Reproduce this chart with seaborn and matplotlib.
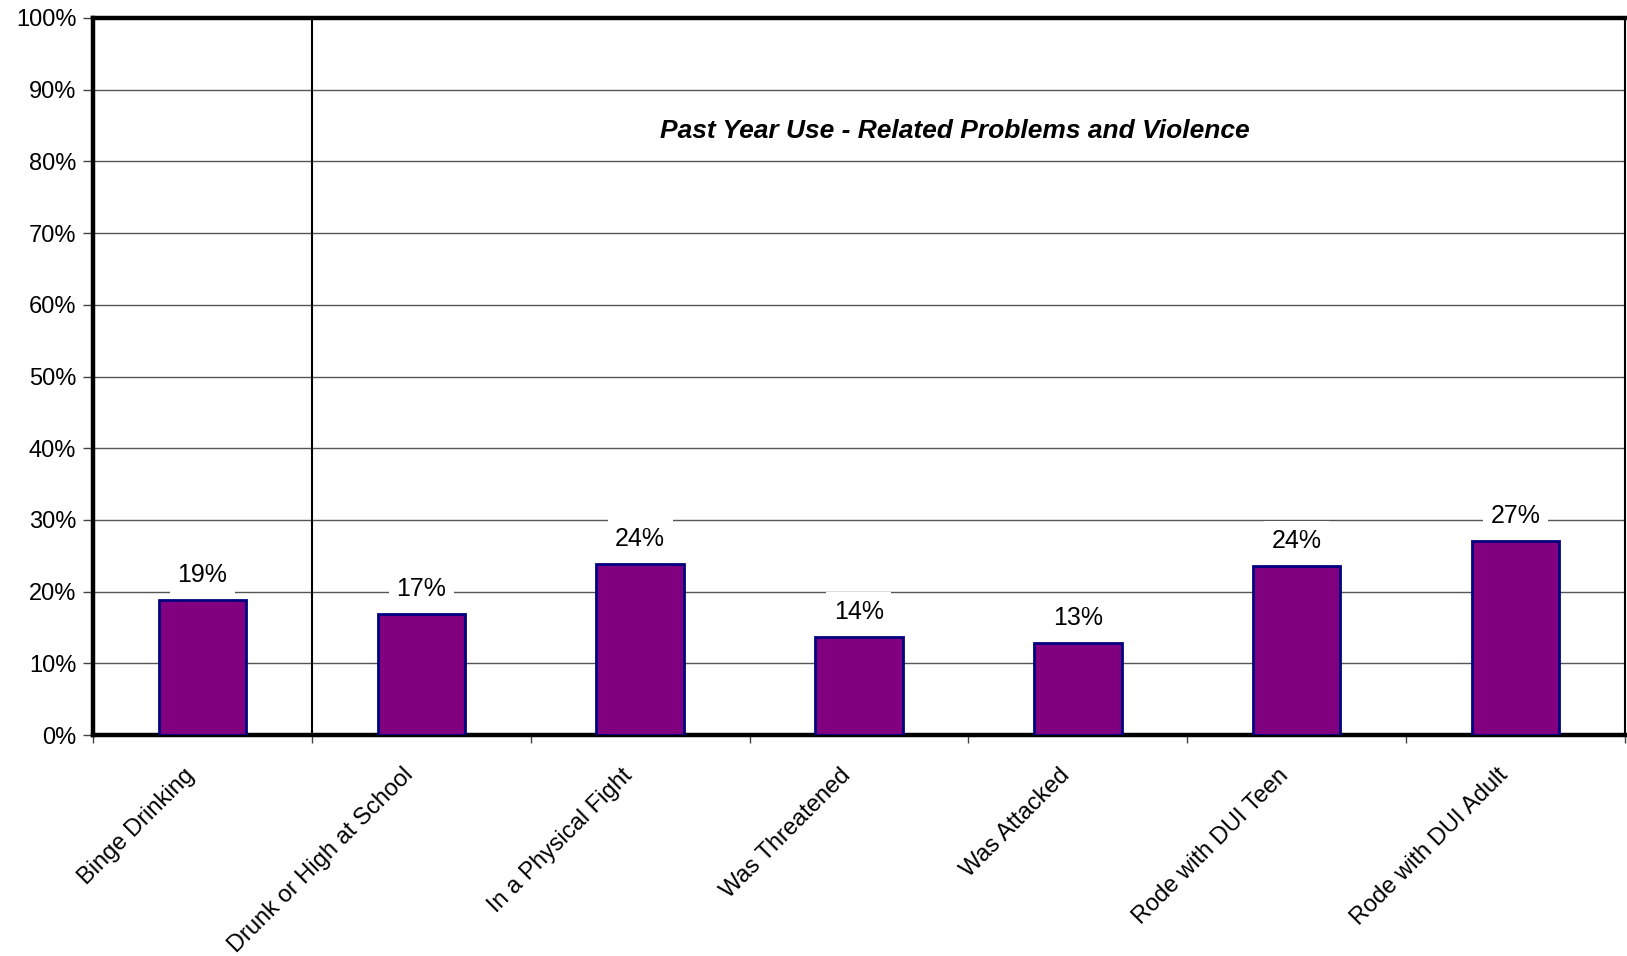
import matplotlib
matplotlib.use("Agg")
import matplotlib.pyplot as plt
import seaborn as sns
import pandas as pd

categories = ["Binge Drinking", "Drunk or High at School", "In a Physical Fight",
              "Was Threatened", "Was Attacked", "Rode with DUI Teen", "Rode with DUI Adult"]
values = [18.8, 16.9, 23.9, 13.7, 12.8, 23.6, 27.0]
yticks = [0, 10, 20, 30, 40, 50, 60, 70, 80, 90, 100]
title_text = "Past Year Use - Related Problems and Violence"

sns.set_theme(style="white")
plt.rcParams['font.family'] = ['Liberation Sans', 'DejaVu Sans']

W, H = 1627, 956
fig = plt.figure(figsize=(W / 100, H / 100), dpi=100)
ax = fig.add_axes([93 / W, 1 - 735 / H, (1625 - 93) / W, (735 - 18) / H])

df = pd.DataFrame({"cat": categories, "val": values})
sns.barplot(data=df, x="cat", y="val", color="#800080", edgecolor="#000080",
            linewidth=2, width=0.4, saturation=1, ax=ax, zorder=3)

ax.set_xlim(-0.5, len(categories) - 0.5)
ax.set_ylim(0, 100)
ax.set_yticks(yticks)
ax.set_yticklabels([f"{t}%" for t in yticks], fontsize=17, color="black")
ax.yaxis.grid(True, color="#555555", linewidth=1)
ax.set_axisbelow(True)

label_shift = 0.087
ax.set_xticks([i - label_shift for i in range(len(categories))])
ax.set_xticklabels(categories, rotation=45, ha="right", va="top",
                   rotation_mode="anchor", fontsize=17, color="black")
ax.set_xticks([i - 0.5 for i in range(len(categories) + 1)], minor=True)
ax.tick_params(axis="x", which="major", length=0, pad=21)
ax.tick_params(axis="x", which="minor", length=6, width=1, direction="out", bottom=True, color="#444444")
ax.tick_params(axis="y", length=7, width=1, direction="out", left=True, color="#444444", pad=5)
ax.set_xlabel("")
ax.set_ylabel("")

for side in ["left", "bottom", "top"]:
    ax.spines[side].set_linewidth(3.2)
    ax.spines[side].set_color("black")
ax.spines["right"].set_linewidth(1.5)
ax.spines["right"].set_color("black")

ax.axvline(0.5, color="black", linewidth=1.5, zorder=2)

for i, v in enumerate(values):
    ax.annotate(f"{round(v)}%", xy=(i, v), xytext=(0, 18), textcoords="offset points",
                ha="center", va="center", fontsize=18, color="black", zorder=4,
                bbox=dict(boxstyle="square,pad=0.3", facecolor="white", edgecolor="none"))

ax.text(0.5626, 0.843, title_text, transform=ax.transAxes, ha="center", va="center",
        fontsize=19, fontweight="bold", fontstyle="italic", color="black", zorder=4)

fig.savefig("out.png", dpi=100)
